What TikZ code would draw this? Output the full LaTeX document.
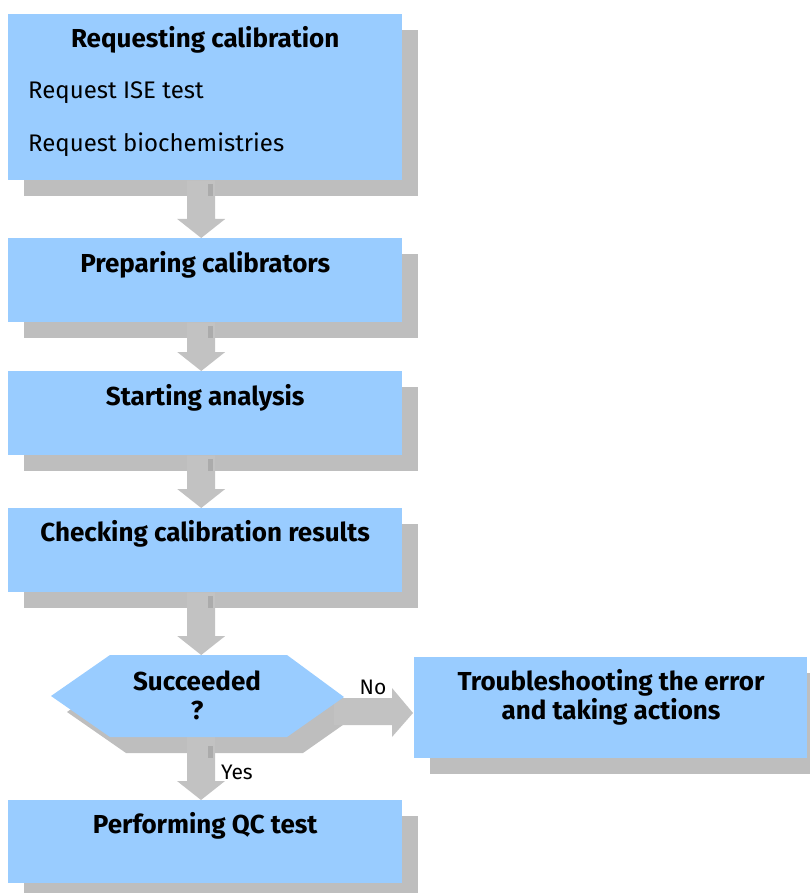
\documentclass[tikz,border=0pt]{standalone}
\usepackage{fontspec}
\setmainfont{Fira Sans}
\usetikzlibrary{calc}
\definecolor{boxblue}{HTML}{99CCFF}
\definecolor{shadowgray}{HTML}{BEBEBE}
\definecolor{arrowgray}{HTML}{C2C2C2}
\definecolor{stripgray}{HTML}{ABABAB}
\pgfdeclarelayer{bg}
\pgfdeclarelayer{mid}
\pgfsetlayers{bg,mid,main}
\newcommand\flowbox[5]{%
  \begin{pgfonlayer}{bg}
  \node[shadowbox,minimum width=#4pt,minimum height=#5pt] (#1s) at (#2+16,#3+16) {};
  \end{pgfonlayer}
  \node[box,minimum width=#4pt,minimum height=#5pt] (#1) at (#2,#3) {};}
\newcommand\flowarrow[2]{%
  \begin{pgfonlayer}{mid}
  \path let \p1=(#1.south), \p2=(#2) in
    [fill=arrowgray]
    (\x1-18pt,\y1) -- (\x1+10pt,\y1) -- (\x1+10pt,\y2+19pt) -- (\x1+20pt,\y2+19pt)
    -- (\x1-4pt,\y2) -- (\x1-28pt,\y2+19pt) -- (\x1-18pt,\y2+19pt) -- cycle;
  \path let \p1=(#1.south) in [fill=stripgray]
    (\x1+3pt,\y1-4pt) rectangle (\x1+8pt,\y1-16pt);
  \end{pgfonlayer}}
\begin{document}
\begin{tikzpicture}[x=1pt,y=-1pt,
  box/.style={fill=boxblue, draw=none, anchor=north west, inner sep=0pt},
  shadowbox/.style={fill=shadowgray, draw=none, anchor=north west, inner sep=0pt},
  title/.style={font=\fontsize{26}{29}\selectfont\bfseries, anchor=base, inner sep=0pt},
  title2/.style={font=\fontsize{26}{29}\selectfont\bfseries, anchor=center, align=center, inner sep=0pt},
  item/.style={font=\fontsize{24}{28}\selectfont, anchor=base west, inner sep=0pt},
  lbl/.style={font=\fontsize{21}{24}\selectfont, inner sep=0pt}]
\useasboundingbox (0,0) rectangle (810,893);

% boxes
\flowbox{b1}{8}{14}{394}{166}
\flowbox{b2}{8}{238}{394}{84}
\flowbox{b3}{8}{371}{394}{84}
\flowbox{b4}{8}{508}{394}{84}
\flowbox{b5}{8}{800}{394}{83}
\flowbox{tr}{414}{657}{393}{101}

% hexagon decision
\coordinate (hexL) at (51,696);
\coordinate (hexR) at (344,697);
\begin{pgfonlayer}{bg}
\fill[shadowgray] (67,712) -- (126,670) -- (303,670) -- (360,713) -- (303,753) -- (126,753) -- cycle;
\end{pgfonlayer}
\fill[boxblue] (hexL) -- (110,655) -- (287,655) -- (hexR) -- (287,737) -- (110,737) -- cycle;
\node[title2] (hex) at (197,695) {Succeeded\\?};
\coordinate (hexT) at (201,655);
\coordinate (hexB) at (201,737);

% texts
\node[title] (t1) at ($(b1.north)+(0,34)$) {Requesting calibration};
\node[item] (t1a) at (28,99) {Request ISE test};
\node[item] (t1b) at (28,152) {Request biochemistries};
\node[title] (t2) at ($(b2.north)+(0,34)$) {Preparing calibrators};
\node[title] (t3) at ($(b3.north)+(0,34)$) {Starting analysis};
\node[title] (t4) at ($(b4.north)+(0,33)$) {Checking calibration results};
\node[title] (t5) at ($(b5.north)+(0,33)$) {Performing QC test};
\node[title2] (ttr) at (611,697) {Troubleshooting the error\\and taking actions};

% arrows
\flowarrow{b1}{b2.north}
\flowarrow{b2}{b3.north}
\flowarrow{b3}{b4.north}
\flowarrow{b4}{hexT}
\begin{pgfonlayer}{mid}
\path let \p1=(hexB), \p2=(b5.north) in
  [fill=arrowgray]
  (\x1-14pt,\y1) -- (\x1+14pt,\y1) -- (\x1+14pt,\y2+19pt) -- (\x1+24pt,\y2+19pt)
  -- (\x1,\y2) -- (\x1-24pt,\y2+19pt) -- (\x1-14pt,\y2+19pt) -- cycle;
\path let \p1=(hexB) in [fill=stripgray]
  (\x1+7pt,\y1-9pt) rectangle (\x1+12pt,\y1-21pt);
\path let \p1=(hexR), \p2=(tr.west) in
  [fill=arrowgray]
  (\x1-10pt,\y1-1pt) -- (\x2-22pt,\y1-1pt) -- (\x2-22pt,\y1+9pt)
  -- (\x2-1pt,\y1-16pt) -- (\x2-22pt,\y1-40pt) -- (\x2-22pt,\y1-28pt)
  -- (\x1-10pt,\y1-28pt) -- cycle;
\end{pgfonlayer}

% labels
\node[lbl] (no) at (373,687) {No};
\node[lbl] (yes) at (237,772) {Yes};
\end{tikzpicture}
\end{document}
